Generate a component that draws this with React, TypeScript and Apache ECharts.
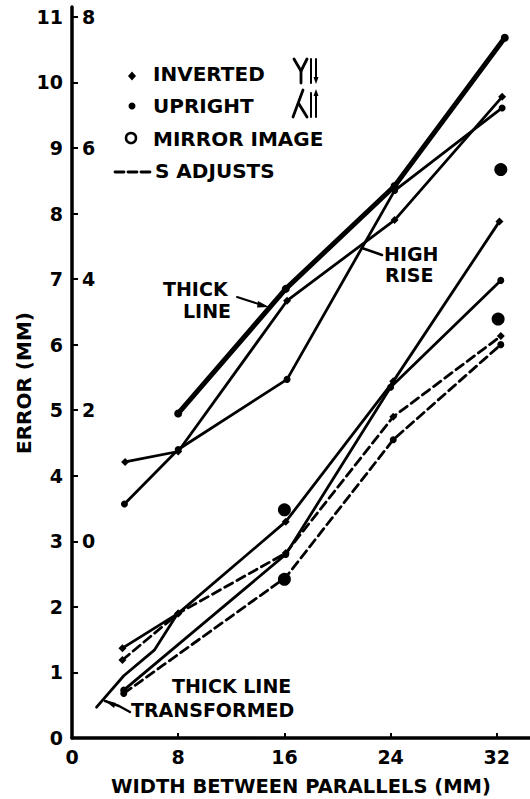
import React, { useEffect, useRef } from 'react';
import * as echarts from 'echarts';

// ---- axes ----
const xTicks = [0, 8, 16, 24, 32];
const xInnerTicks = [8, 16, 24, 32];
const yTicksLeft = [0, 1, 2, 3, 4, 5, 6, 7, 8, 9, 10, 11];
const yTicksRight = [3, 5, 7, 9, 11]; // inner scale: labelled as value - 3
const rightScaleOffset = 3;

// ---- upper group (read against the outer scale) ----
const thickLine = [[8, 4.95], [16.1, 6.85], [24.3, 8.42], [32.6, 10.68]];
const highRiseInverted = [[4, 4.21], [8, 4.37], [16.2, 6.67], [24.3, 7.9], [32.4, 9.78]];
const highRiseUpright = [[3.95, 3.57], [8, 4.4], [16.2, 5.47], [24.3, 8.35], [32.4, 9.61]];

// ---- lower group ----
const lowerInverted = [[3.8, 1.37], [8, 1.9], [16.1, 3.3], [24.2, 5.44], [32.2, 7.88]];
const lowerUpright = [[3.9, 0.73], [16.1, 2.8], [24.0, 5.35], [32.3, 6.98]];
const sAdjustInverted = [[3.8, 1.19], [8, 1.9], [16.1, 2.82], [24.2, 4.9], [32.3, 6.13]];
const sAdjustUpright = [[3.9, 0.68], [16.1, 2.45], [24.2, 4.55], [32.3, 6.0]];
const thickTransformed = [[1.85, 0.47], [3.9, 0.95], [6.2, 1.34], [7.9, 1.88]];
const mirrorImage = [[16, 3.48], [16, 2.42], [32.1, 6.39], [32.3, 8.67]];

const FONT = 'DejaVu Sans';
const BLACK = '#000';

const bold = (size: number) => ({ fontFamily: FONT, fontWeight: 'bold' as const, fontSize: size, color: BLACK });

function text(t: string, x: number, y: number, size = 20, align = 'left') {
  return {
    type: 'text',
    x,
    y,
    style: {
      text: t,
      fill: BLACK,
      font: `bold ${size}px "${FONT}"`,
      fontFamily: FONT,
      fontWeight: 'bold',
      fontSize: size,
      align,
      textAlign: align,
      verticalAlign: 'middle',
      textVerticalAlign: 'middle',
    },
  };
}

function seg(points: number[][], width = 2.8) {
  return {
    type: 'polyline',
    shape: { points },
    style: { stroke: BLACK, lineWidth: width, fill: 'none', lineCap: 'round', lineJoin: 'round' },
  };
}

function poly(points: number[][]) {
  return { type: 'polygon', shape: { points }, style: { fill: BLACK } };
}

function lineSeries(name: string, data: number[][], opts: any) {
  return {
    name,
    type: 'line',
    data,
    xAxisIndex: 0,
    yAxisIndex: 0,
    symbol: opts.symbol ?? 'circle',
    symbolSize: opts.symbolSize ?? 6,
    showSymbol: opts.symbol !== 'none',
    lineStyle: {
      color: BLACK,
      width: opts.width ?? 2.8,
      type: opts.dashed ? [9, 5] : 'solid',
      cap: 'round',
      join: 'round',
    },
    itemStyle: { color: BLACK, borderColor: BLACK, borderWidth: 0, opacity: 1 },
    emphasis: { disabled: true },
    silent: true,
    z: opts.z ?? 3,
  };
}

export default function App() {
  const ref = useRef<HTMLDivElement>(null);

  useEffect(() => {
    if (!ref.current) return;
    const chart = echarts.init(ref.current, null, { renderer: 'svg' });

    const option: any = {
      animation: false,
      backgroundColor: '#fff',
      grid: { left: 72, right: 0, top: 7, bottom: 61, containLabel: false, outerBoundsMode: 'none' },
      xAxis: {
        type: 'value',
        min: 0,
        max: 34.5,
        interval: 8,
        axisLine: { show: true, onZero: false, lineStyle: { color: BLACK, width: 3.5 } },
        axisTick: { show: true, inside: true, length: 5, customValues: xInnerTicks, lineStyle: { color: BLACK, width: 2 } },
        axisLabel: {
          ...bold(19),
          margin: 9,
          customValues: xTicks,
          formatter: (v: number) => (xTicks.includes(v) ? String(v) : ''),
        },
        splitLine: { show: false },
        name: 'WIDTH BETWEEN PARALLELS (MM)',
        nameLocation: 'middle',
        nameGap: 38,
        nameTextStyle: bold(19.5),
      },
      yAxis: [
        {
          type: 'value',
          position: 'left',
          min: 0,
          max: 11.15,
          interval: 1,
          axisLine: { show: true, onZero: false, lineStyle: { color: BLACK, width: 3.5 } },
          axisTick: { show: true, inside: true, length: 6, customValues: yTicksLeft, lineStyle: { color: BLACK, width: 2 } },
          axisLabel: {
            ...bold(19),
            margin: 9,
            customValues: yTicksLeft,
            formatter: (v: number) => (yTicksLeft.includes(v) ? String(v) : ''),
          },
          splitLine: { show: false },
        },
        {
          type: 'value',
          position: 'left',
          min: 0,
          max: 11.15,
          interval: 1,
          axisLine: { show: false },
          axisTick: { show: false },
          axisLabel: {
            ...bold(19),
            inside: true,
            margin: 10,
            customValues: yTicksRight,
            formatter: (v: number) => (yTicksRight.includes(v) ? String(v - rightScaleOffset) : ''),
          },
          splitLine: { show: false },
        },
      ],
      series: [
        lineSeries('Thick line', thickLine, { width: 5, symbolSize: 8, z: 4 }),
        lineSeries('High rise inverted', highRiseInverted, { symbol: 'diamond', symbolSize: 8 }),
        lineSeries('High rise upright', highRiseUpright, { symbolSize: 7 }),
        lineSeries('Inverted', lowerInverted, { symbol: 'diamond', symbolSize: 8 }),
        lineSeries('Upright', lowerUpright, { symbolSize: 7 }),
        lineSeries('S adjusts inverted', sAdjustInverted, { symbol: 'diamond', symbolSize: 8, dashed: true }),
        lineSeries('S adjusts upright', sAdjustUpright, { symbolSize: 7, dashed: true }),
        lineSeries('Thick line transformed', thickTransformed, { symbol: 'none' }),
        {
          name: 'Mirror image',
          type: 'scatter',
          data: mirrorImage,
          symbol: 'circle',
          symbolSize: 13,
          itemStyle: { color: BLACK, opacity: 1 },
          emphasis: { disabled: true },
          silent: true,
          z: 5,
        },
      ],
      graphic: [
        // legend
        poly([[132, 71.5], [136, 76], [132, 80.5], [128, 76]]),
        text('INVERTED', 153, 74),
        seg([[294, 59], [301, 71], [307, 59]]),
        seg([[301, 71], [301, 83]]),
        seg([[311, 59], [311, 83]], 2),
        seg([[316, 59], [316, 80]], 2),
        poly([[313.5, 77], [318.5, 77], [316, 84]]),
        { type: 'circle', shape: { cx: 132, cy: 106, r: 3.5 }, style: { fill: BLACK } },
        text('UPRIGHT', 153, 106),
        seg([[293, 117], [303, 90]]),
        seg([[299, 104], [307, 117]]),
        seg([[311, 93], [311, 117]], 2),
        seg([[316, 93], [316, 117]], 2),
        poly([[313.5, 96], [318.5, 96], [316, 89]]),
        { type: 'circle', shape: { cx: 131, cy: 138, r: 5 }, style: { fill: 'none', stroke: BLACK, lineWidth: 2.5 } },
        text('MIRROR IMAGE', 153, 139),
        seg([[115, 172], [124, 172]]),
        seg([[128, 172], [137, 172]]),
        seg([[141, 172], [150, 172]]),
        text('S ADJUSTS', 155, 171),
        // annotations
        text('THICK', 163, 289, 19),
        text('LINE', 183, 311, 19),
        seg([[237, 297], [262, 305]], 2),
        poly([[258, 301], [269, 307], [257, 307.5]]),
        text('HIGH', 384, 254, 19),
        text('RISE', 385, 275, 19),
        seg([[382, 255], [362, 248]], 2.5),
        text('THICK LINE', 172, 686, 19),
        text('TRANSFORMED', 131, 710, 19),
        seg([[130, 712], [119, 706], [105, 701]], 2.5),
        poly([[104, 700], [116, 703], [114, 708]]),
        // y-axis title
        {
          type: 'text',
          x: 24,
          y: 383,
          rotation: Math.PI / 2,
          style: {
            text: 'ERROR (MM)',
            fill: BLACK,
            font: `bold 20px "${FONT}"`,
            fontFamily: FONT,
            fontWeight: 'bold',
            fontSize: 20,
            align: 'center',
            textAlign: 'center',
            verticalAlign: 'middle',
            textVerticalAlign: 'middle',
          },
        },
      ],
    };

    chart.setOption(option);
    return () => chart.dispose();
  }, []);

  return (
    <div
      ref={ref}
      style={{ position: 'fixed', left: 0, top: 0, width: 530, height: 799, background: '#fff' }}
    />
  );
}
